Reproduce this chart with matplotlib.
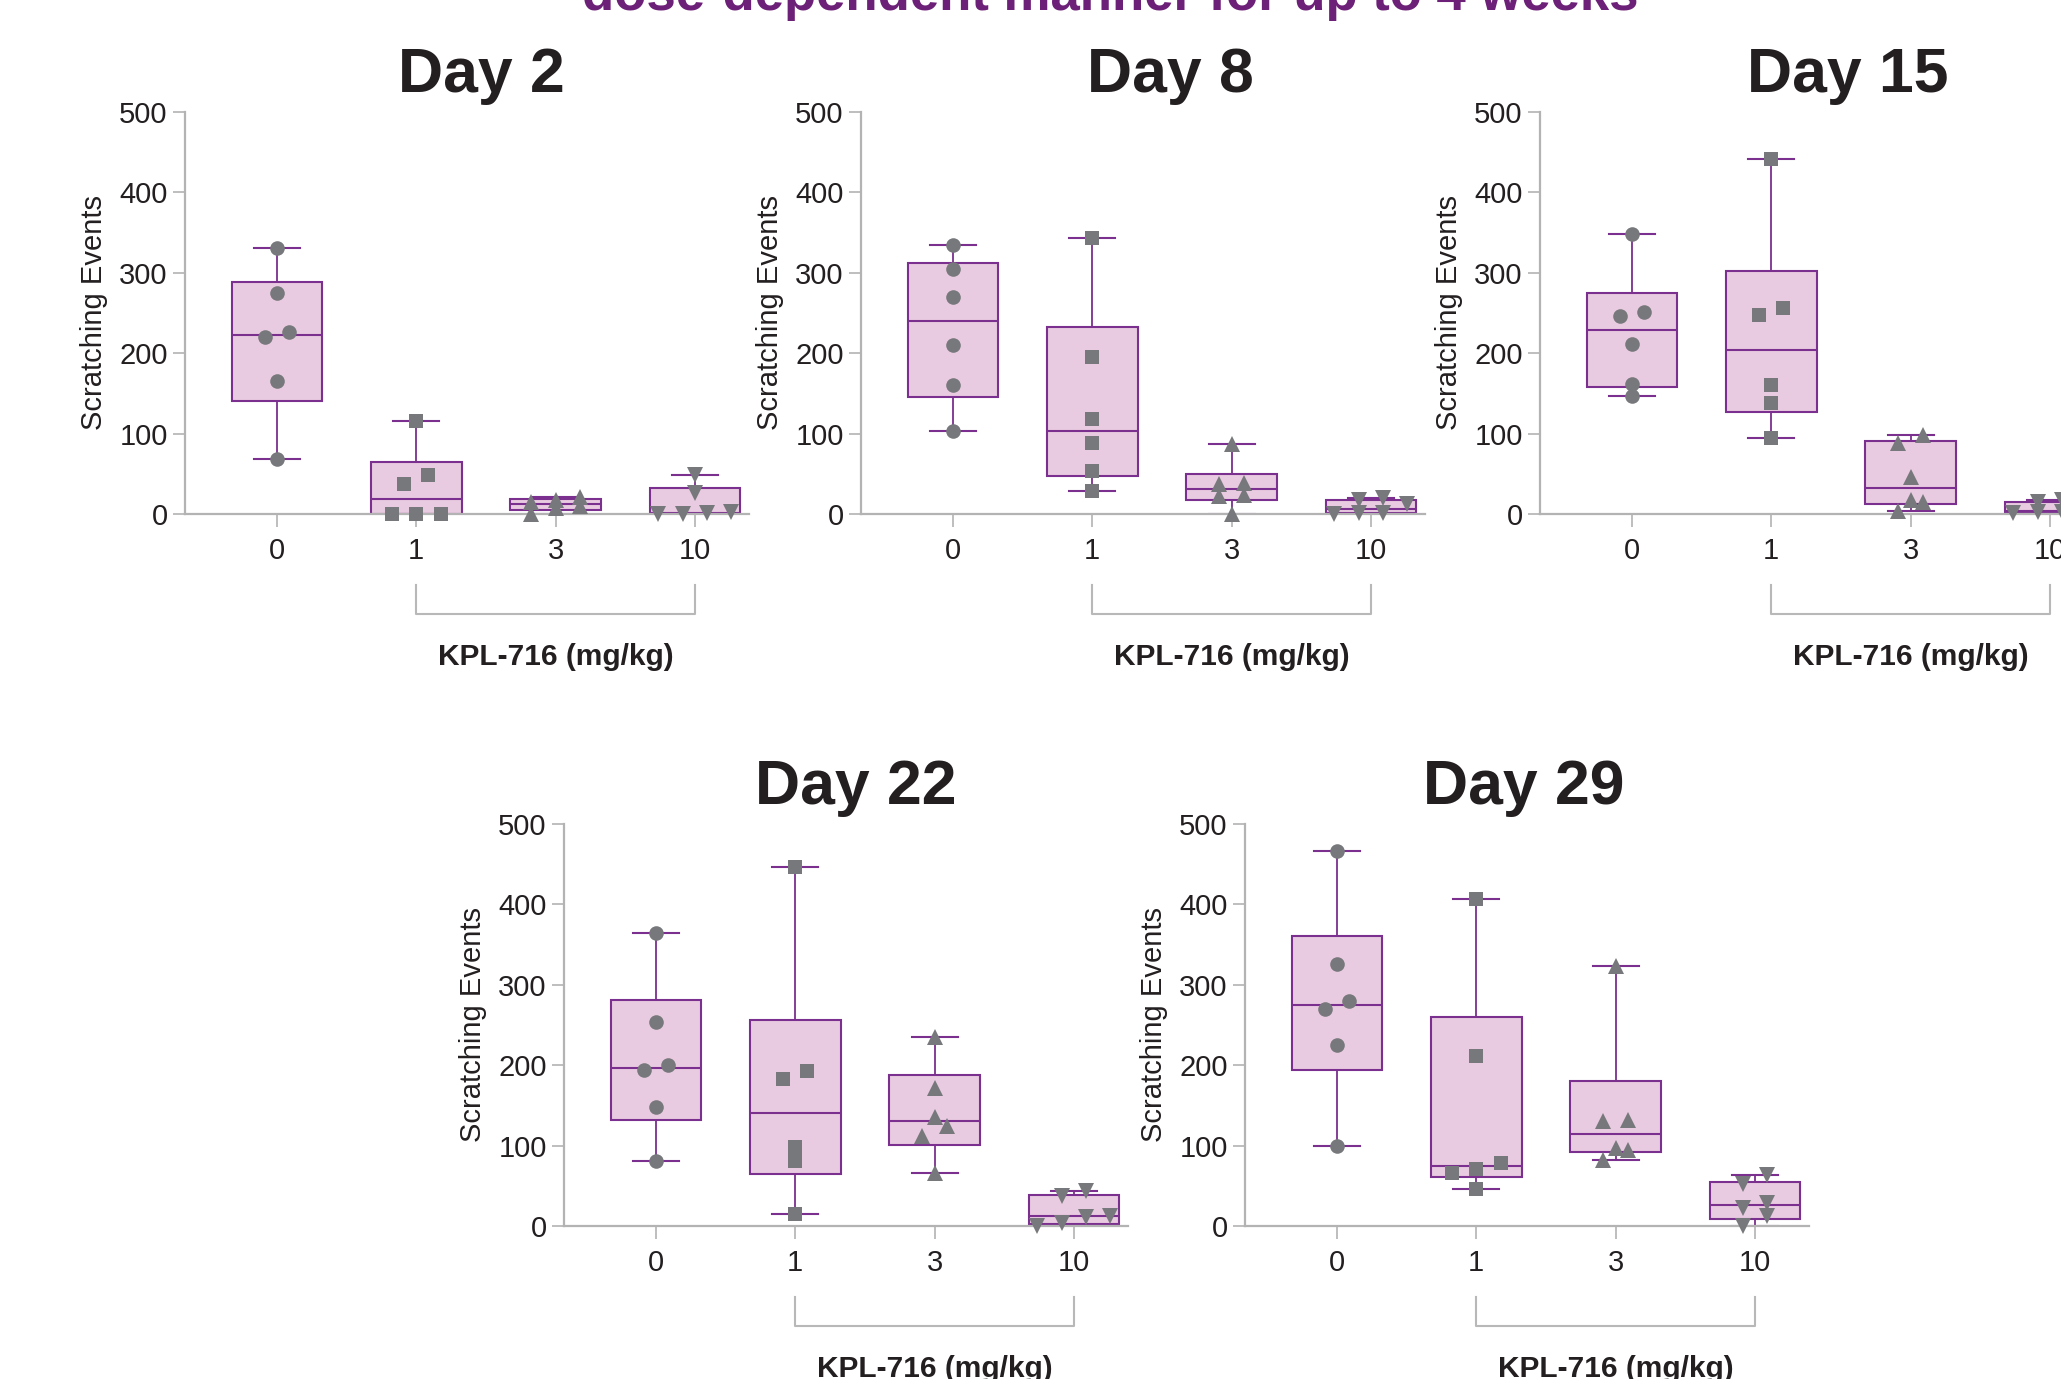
import matplotlib
matplotlib.use("Agg")
import matplotlib.pyplot as plt
import numpy as np

# ---------- Data ----------
days = ["Day 2", "Day 8", "Day 15", "Day 22", "Day 29"]
doses = ["0", "1", "3", "10"]

# scratching events per animal, one list per dose (0, 1, 3, 10 mg/kg)
day2 = [
    [331, 275, 220, 226, 165, 68],
    [116, 37, 48, 0, 0, 0],
    [21, 15, 0, 10, 7, 18],
    [49, 26, 0, 1, 2, 0],
]
day8 = [
    [335, 305, 270, 210, 160, 103],
    [343, 195, 118, 88, 53, 29],
    [87, 37, 38, 23, 24, 0],
    [20, 17, 12, 1.5, 1.5, 0.5],
]
day15 = [
    [348, 246, 251, 211, 162, 147],
    [442, 248, 256, 160, 138, 95],
    [98, 88, 46, 18, 15, 4],
    [17, 15, 5, 3, 2, 1],
]
day22 = [
    [364, 254, 194, 200, 148, 81],
    [446, 183, 193, 98, 81, 15],
    [235, 172, 136, 124, 112, 66],
    [44, 37, 13, 11, 4, 0],
]
day29 = [
    [466, 326, 270, 280, 225, 100],
    [407, 211, 78, 66, 71, 46],
    [324, 132, 131, 97, 95, 82],
    [64, 52, 29, 23, 12, 0],
]
all_days = [day2, day8, day15, day22, day29]

headline = "dose-dependent manner for up to 4 weeks"

# ---------- Style ----------
plt.rcParams["font.family"] = ["Liberation Sans", "DejaVu Sans"]

PURPLE = "#7B2F8E"
FILL = "#E8CBE0"
DOT = "#77787B"
AXIS = "#B3B3B3"
TEXT = "#231F20"
markers = ["o", "s", "^", "v"]
msizes = [10.5, 10.0, 11.0, 11.0]

# ---------- Layout (pixels of a 2061x1379 canvas) ----------
W, H = 2061, 1379
PX_PER_CAT = 139.3
XMIN, XMAX = -0.66, 3.39
AX_H = 402
# left spine x, zero line y
anchors = [(185, 514), (861, 514), (1540, 514), (564, 1226), (1245, 1226)]
title_dx = [296, 309, 308, 292, 279]


def swarm_offsets(values, gap=13.5, step=0.175):
    # points closer than `gap` are put side by side, centred on the category
    values = np.asarray(values, dtype=float)
    order = np.argsort(values, kind="stable")
    offs = np.zeros(len(values))

    def flush(row):
        k = len(row)
        for j, idx in enumerate(row):
            offs[idx] = (j - (k - 1) / 2) * step

    row = []
    for idx in order:
        if row and values[idx] - values[row[0]] > gap:
            flush(row)
            row = []
        row.append(idx)
    flush(row)
    return offs


def box_stats(values):
    v = np.asarray(values, dtype=float)
    q1, med, q3 = np.percentile(v, [25, 50, 75], method="weibull")
    return dict(med=med, q1=q1, q3=q3, whislo=v.min(), whishi=v.max(), fliers=[])


fig = plt.figure(figsize=(W / 100, H / 100), dpi=100)

# cut-off headline at the very top
fig.text(1110 / W, 1 - 10 / H, headline, ha="center", va="baseline",
         fontsize=38, fontweight="bold", color="#6D2077")

for day, groups, (x0, y0), tdx in zip(days, all_days, anchors, title_dx):
    ax_w = (XMAX - XMIN) * PX_PER_CAT
    ax = fig.add_axes([x0 / W, 1 - y0 / H, ax_w / W, AX_H / H])
    pos = np.arange(len(doses))

    ax.bxp(
        [box_stats(g) for g in groups],
        positions=pos,
        widths=0.65,
        capwidths=0.33,
        patch_artist=True,
        showfliers=False,
        manage_ticks=False,
        boxprops=dict(facecolor=FILL, edgecolor=PURPLE, linewidth=1.5),
        medianprops=dict(color=PURPLE, linewidth=1.5),
        whiskerprops=dict(color=PURPLE, linewidth=1.3),
        capprops=dict(color=PURPLE, linewidth=1.5),
        zorder=2,
    )

    for i, g in enumerate(groups):
        xs = pos[i] + swarm_offsets(g)
        ax.plot(xs, g, linestyle="none", marker=markers[i], markersize=msizes[i],
                color=DOT, markeredgewidth=0, zorder=3, clip_on=False)

    ax.set_xlim(XMIN, XMAX)
    ax.set_ylim(0, 500)
    ax.set_xticks(pos)
    ax.set_xticklabels(doses)
    ax.set_yticks(np.arange(0, 501, 100))

    for s in ["top", "right"]:
        ax.spines[s].set_visible(False)
    for s in ["left", "bottom"]:
        ax.spines[s].set_color(AXIS)
        ax.spines[s].set_linewidth(1.6)

    ax.tick_params(axis="both", colors=AXIS, labelcolor=TEXT, labelsize=21,
                   width=1.2, length=9)
    ax.tick_params(axis="x", pad=7.5)
    ax.tick_params(axis="y", pad=3.5)

    ax.set_ylabel("Scratching Events", fontsize=21, color=TEXT)
    ax.yaxis.set_label_coords(-0.136, 0.5)

    # bracket under the treated doses
    tr = ax.get_xaxis_transform()
    ax.plot([1, 1, 3, 3], [-0.177, -0.249, -0.249, -0.177], transform=tr,
            color="#B8B8B8", linewidth=1.5, clip_on=False)
    ax.text(2, -0.355, "KPL-716 (mg/kg)", transform=tr, ha="center", va="center",
            fontsize=21.5, fontweight="bold", color=TEXT)

    fig.text((x0 + tdx) / W, 1 - (y0 - AX_H - 20) / H, day, ha="center",
             va="baseline", fontsize=45, fontweight="bold", color=TEXT)

fig.savefig("out.png", dpi=100)
